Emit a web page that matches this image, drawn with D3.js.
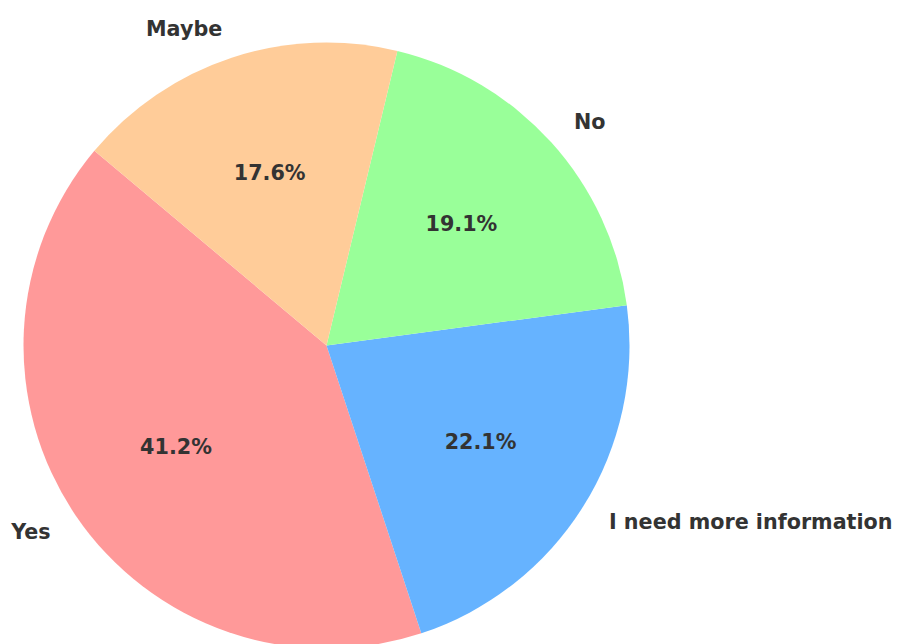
<!doctype html>
<html>
<head>
  <meta charset="UTF-8">
  <title>Pie</title>
  <style>
    body { margin: 0; background: #fff; }
    svg { display: block; }
  </style>
</head>
<body>
  <div id="chart"></div>
  <script src="https://cdn.jsdelivr.net/npm/d3@7/dist/d3.min.js"></script>
  <script>
    var categories = ["Yes", "I need more information", "No", "Maybe"];
    var counts = [28, 15, 13, 12];
    var colors = ["#ff9999", "#66b3ff", "#99ff99", "#ffcc99"];

    var width = 897, height = 644;
    var cx = 326.5, cy = 345.5, radius = 303;
    var startDeg = 140; // counter-clockwise from +x, like matplotlib

    var svg = d3.select("#chart").append("svg")
      .attr("width", width)
      .attr("height", height);

    var g = svg.append("g")
      .attr("transform", "translate(" + cx + "," + cy + ")");

    // d3 angles run clockwise from 12 o'clock; flip to get matplotlib's ccw order
    var toD3 = function(deg) { return (90 - deg) * Math.PI / 180; };
    var pie = d3.pie().sort(null)
      .startAngle(toD3(startDeg))
      .endAngle(toD3(startDeg) - 2 * Math.PI);

    var arcs = pie(counts);
    var total = d3.sum(counts);
    var fmt = d3.format(".1f");

    var arc = d3.arc().innerRadius(0).outerRadius(radius);

    g.selectAll("path.slice")
      .data(arcs)
      .enter().append("path")
      .attr("class", "slice")
      .attr("d", arc)
      .attr("fill", function(d, i) { return colors[i]; });

    function midPoint(d, r) {
      var a = (d.startAngle + d.endAngle) / 2;
      return [r * Math.sin(a), -r * Math.cos(a)];
    }

    var fontStyle = function(sel) {
      sel.attr("font-family", "DejaVu Sans, sans-serif")
        .attr("font-weight", "bold")
        .attr("font-size", "20.7px")
        .attr("fill", "#333333")
        .attr("dominant-baseline", "central");
    };

    g.selectAll("text.label")
      .data(arcs)
      .enter().append("text")
      .attr("class", "label")
      .attr("x", function(d) { return midPoint(d, radius * 1.1)[0]; })
      .attr("y", function(d) { return midPoint(d, radius * 1.1)[1]; })
      .attr("text-anchor", function(d) { return midPoint(d, 1)[0] > 0 ? "start" : "end"; })
      .text(function(d, i) { return categories[i]; })
      .call(fontStyle);

    g.selectAll("text.pct")
      .data(arcs)
      .enter().append("text")
      .attr("class", "pct")
      .attr("x", function(d) { return midPoint(d, radius * 0.6)[0]; })
      .attr("y", function(d) { return midPoint(d, radius * 0.6)[1]; })
      .attr("text-anchor", "middle")
      .text(function(d) { return fmt(d.value / total * 100) + "%"; })
      .call(fontStyle);
  </script>
</body>
</html>
